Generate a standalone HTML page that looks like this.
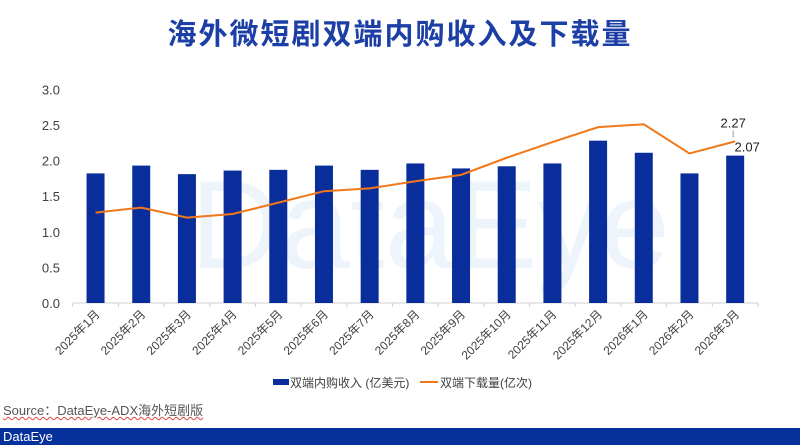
<!DOCTYPE html>
<html><head><meta charset="utf-8"><style>
body{margin:0;width:800px;height:445px;overflow:hidden;background:#fff;font-family:"Liberation Sans","Noto Sans CJK SC",sans-serif;position:relative}
.t{position:absolute;left:0;width:800px;top:11px;text-align:center;font-size:29px;font-weight:bold;color:#1c3fa6;letter-spacing:2px}
.src{position:absolute;left:3px;top:400px;font-size:13px;color:#555;text-decoration:underline wavy #d44;text-decoration-thickness:1px}
.foot{position:absolute;left:0;top:428px;width:800px;height:17px;background:#06309a;color:#fff;font-size:13px;line-height:17px;padding-left:3px;box-sizing:border-box}
</style></head><body>
<div class="t">海外微短剧双端内购收入及下载量</div>
<svg id="c" width="800" height="445" style="position:absolute;left:0;top:0"></svg>
<div class="src">Source：DataEye-ADX海外短剧版</div>
<div class="foot">DataEye</div>
<script>
const categories=["2025年1月","2025年2月","2025年3月","2025年4月","2025年5月","2025年6月","2025年7月","2025年8月","2025年9月","2025年10月","2025年11月","2025年12月","2026年1月","2026年2月","2026年3月"];
const revenue=[1.82,1.93,1.81,1.86,1.87,1.93,1.87,1.96,1.89,1.92,1.96,2.28,2.11,1.82,2.07];
const downloads=[1.27,1.34,1.20,1.25,1.41,1.57,1.61,1.71,1.80,2.04,2.26,2.47,2.51,2.10,2.27];
const yTicks=[0,0.5,1,1.5,2,2.5,3];
const svg=document.getElementById('c');const NS='http://www.w3.org/2000/svg';
function mk(t,a,p){const e=document.createElementNS(NS,t);for(const k in a)e.setAttribute(k,a[k]);(p||svg).appendChild(e);return e;}
const x0=72.7,x1=758,y0=303,pu=71.2;
const bw=(x1-x0)/categories.length;
const X=i=>x0+bw*(i+0.5);const Y=v=>y0-v*pu;
const wm=mk('text',{x:430,y:268,'font-size':125,'text-anchor':'middle',fill:'#eef4fc','font-family':'Liberation Sans, sans-serif'});wm.textContent='DataEye';


yTicks.forEach(v=>{const t=mk('text',{x:60,y:Y(v)+5,'font-size':13,'text-anchor':'end',fill:'#404040'});t.textContent=v.toFixed(1);

});
mk('line',{x1:x0,x2:x1,y1:y0,y2:y0,stroke:'#d0d0d0','stroke-width':1});
for(let i=0;i<=categories.length;i++)mk('line',{x1:x0+bw*i,x2:x0+bw*i,y1:y0,y2:y0+4,stroke:'#d0d0d0'});
revenue.forEach((v,i)=>{const r=mk('rect',{x:X(i)-9,y:Y(v),width:18,height:v*pu,fill:'#0a2d9c'});

});
const ln=mk('polyline',{points:downloads.map((v,i)=>X(i)+','+Y(v)).join(' '),fill:'none',stroke:'#f07818','stroke-width':2});


categories.forEach((c,i)=>{const t=mk('text',{x:0,y:0,'font-size':12,'text-anchor':'end',fill:'#404040',transform:`translate(${X(i)+5},${y0+12}) rotate(-45)`});t.textContent=c;

});
const n=categories.length-1;
const l1=mk('text',{x:X(n)-2,y:Y(downloads[n])-14,'font-size':13,'text-anchor':'middle',fill:'#222'});l1.textContent=downloads[n].toFixed(2);


mk('line',{x1:X(n)-2,x2:X(n)-2,y1:Y(downloads[n])-11,y2:Y(downloads[n])-4,stroke:'#999'});
const l2=mk('text',{x:X(n)+12,y:Y(revenue[n])-4,'font-size':13,'text-anchor':'middle',fill:'#222'});l2.textContent=revenue[n].toFixed(2);


const lg=mk('g',{});
mk('rect',{x:273,y:379,width:16,height:6,fill:'#0a2d9c'},lg);
const a=mk('text',{x:290,y:387,'font-size':12,fill:'#404040'},lg);a.textContent='双端内购收入 (亿美元)';
mk('line',{x1:420,x2:438,y1:382,y2:382,stroke:'#f07818','stroke-width':2},lg);
const b=mk('text',{x:440,y:387,'font-size':12,fill:'#404040'},lg);b.textContent='双端下载量(亿次)';
</script>
</body></html>
